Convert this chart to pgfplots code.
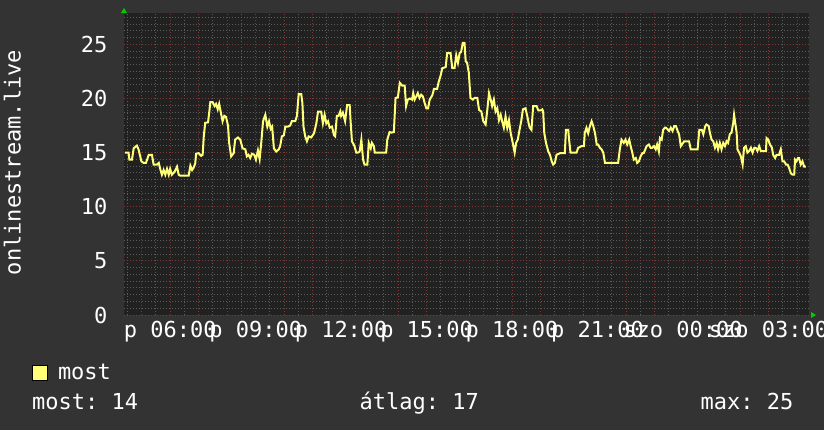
\documentclass[border=0pt]{standalone}
\usepackage{fontspec}
\setmainfont{DejaVu Sans Mono}
\usepackage{pgfplots}
\pgfplotsset{compat=1.18}
\definecolor{outerbg}{RGB}{51,51,51}
\definecolor{plotbg}{RGB}{33,33,33}
\definecolor{minorgrid}{RGB}{92,92,92}
\definecolor{majorgrid}{RGB}{125,55,55}
\definecolor{lineyellow}{RGB}{255,255,120}
\definecolor{arrowgreen}{RGB}{0,204,0}
\newcommand{\rrdfont}{\fontsize{22bp}{26bp}\selectfont}
\frenchspacing
\pgfplotstableread{
h v
4.42 15.0
4.54 15.0
4.57 14.35
4.66 14.35
4.72 15.4
4.83 15.65
4.89 15.3
4.99 14.2
5.07 14.05
5.15 14.05
5.25 14.8
5.36 14.8
5.42 13.9
5.54 13.9
5.60 14.05
5.65 13.5
5.71 12.96
5.77 13.4
5.83 12.96
5.89 13.5
5.95 12.96
6.00 13.5
6.06 12.96
6.16 13.25
6.24 13.7
6.30 12.96
6.35 12.87
6.65 12.87
6.71 13.8
6.77 13.4
6.82 13.6
6.88 14.0
6.91 14.9
7.00 14.95
7.09 14.7
7.14 14.8
7.18 16.5
7.23 17.75
7.33 17.8
7.37 18.7
7.41 19.66
7.49 19.66
7.56 19.3
7.61 19.5
7.67 19.0
7.72 19.5
7.78 18.7
7.84 17.9
7.90 18.4
7.96 18.3
8.03 17.5
8.07 15.9
8.14 14.65
8.23 14.95
8.28 16.2
8.38 16.4
8.46 16.2
8.54 15.4
8.64 15.3
8.69 14.65
8.75 14.8
8.81 14.5
8.87 14.9
8.95 14.8
9.01 14.35
9.08 15.2
9.14 14.4
9.20 16.0
9.26 17.9
9.34 18.5
9.41 17.4
9.47 17.9
9.53 17.2
9.58 17.4
9.64 15.4
9.72 15.1
9.81 15.3
9.86 15.6
9.92 16.5
9.99 16.6
10.04 17.4
10.13 17.4
10.21 17.5
10.27 17.9
10.39 17.9
10.45 18.4
10.51 20.4
10.60 20.4
10.64 19.6
10.68 17.4
10.74 16.5
10.80 16.05
10.86 16.5
10.95 16.4
11.05 16.8
11.13 17.7
11.19 18.8
11.30 18.8
11.36 17.7
11.42 18.5
11.48 17.7
11.54 17.9
11.60 17.3
11.68 17.4
11.75 16.6
11.79 16.5
11.85 18.4
11.91 18.4
11.97 18.8
12.00 18.4
12.06 18.7
12.14 17.9
12.21 19.4
12.30 19.4
12.33 18.0
12.38 16.05
12.47 15.6
12.53 15.0
12.59 15.0
12.65 15.1
12.71 16.2
12.77 14.35
12.82 13.9
12.92 13.9
12.97 15.9
13.04 15.4
13.08 15.9
13.15 15.6
13.18 15.0
13.58 15.0
13.62 16.2
13.70 16.9
13.76 16.85
13.85 16.9
13.91 20.05
13.99 20.1
14.06 21.45
14.14 21.2
14.23 21.2
14.28 19.3
14.34 19.9
14.41 20.0
14.49 19.9
14.53 20.5
14.58 19.9
14.64 20.2
14.69 20.5
14.75 20.05
14.81 20.35
14.87 20.2
14.93 19.6
14.99 19.1
15.05 19.1
15.11 19.9
15.20 20.3
15.26 20.9
15.37 20.9
15.43 21.6
15.49 22.1
15.55 22.8
15.67 22.9
15.72 24.2
15.84 24.2
15.90 22.8
15.98 22.8
16.04 24.0
16.10 23.3
16.16 24.2
16.21 24.3
16.27 25.15
16.33 25.15
16.37 23.45
16.42 23.3
16.48 22.4
16.54 20.05
16.62 19.9
16.68 20.05
16.78 20.05
16.84 18.95
16.92 18.8
16.99 17.9
17.07 17.6
17.13 18.95
17.19 20.5
17.25 19.9
17.30 19.3
17.36 19.9
17.42 18.8
17.48 19.1
17.54 18.0
17.60 18.5
17.65 17.9
17.71 17.3
17.77 18.35
17.83 17.3
17.89 18.0
17.95 16.8
18.00 16.2
18.09 15.0
18.14 15.9
18.20 16.2
18.26 17.1
18.32 17.9
18.38 19.0
18.47 19.1
18.53 18.4
18.59 17.6
18.62 17.3
18.68 17.1
18.74 19.3
18.86 19.3
18.92 18.9
19.00 18.9
19.06 19.0
19.09 18.8
19.13 16.8
19.19 15.9
19.27 15.1
19.33 14.8
19.39 14.2
19.44 13.9
19.50 14.05
19.56 14.8
19.68 14.95
19.85 14.95
19.89 17.1
19.97 17.1
20.00 16.2
20.05 15.0
20.26 15.0
20.32 15.45
20.44 15.6
20.52 15.6
20.55 16.8
20.61 17.3
20.67 16.8
20.73 17.45
20.79 17.9
20.85 17.45
20.91 16.8
20.97 15.75
21.02 15.75
21.08 15.45
21.14 15.3
21.20 15.0
21.26 14.05
21.72 14.05
21.78 15.3
21.84 16.2
21.92 15.9
21.98 16.2
22.04 15.75
22.11 16.2
22.16 15.6
22.21 15.1
22.27 14.35
22.34 14.5
22.39 14.05
22.45 14.2
22.51 14.65
22.57 14.95
22.62 14.95
22.72 15.6
22.80 15.75
22.86 15.45
22.92 15.45
22.98 15.6
23.04 15.3
23.09 15.75
23.15 15.1
23.19 16.35
23.25 16.2
23.30 17.1
23.36 17.3
23.40 17.3
23.51 17.0
23.57 17.3
23.63 17.0
23.69 17.45
23.75 17.45
23.81 17.0
23.86 16.7
23.92 15.6
24.04 16.05
24.10 16.05
24.21 16.05
24.27 15.3
24.51 15.3
24.57 17.1
24.66 17.1
24.71 16.7
24.78 17.45
24.82 17.6
24.90 17.45
24.94 16.85
25.00 16.2
25.06 16.05
25.12 15.45
25.18 15.9
25.23 15.3
25.29 15.9
25.35 15.3
25.41 15.9
25.47 15.6
25.53 16.05
25.58 15.9
25.64 16.7
25.70 16.85
25.76 17.75
25.79 18.5
25.83 17.75
25.88 16.85
25.91 15.3
25.97 15.0
26.03 14.65
26.09 13.9
26.14 15.45
26.20 15.6
26.26 15.0
26.32 15.15
26.38 15.45
26.44 15.0
26.50 15.45
26.55 15.45
26.61 15.15
26.67 15.6
26.73 15.15
26.91 15.15
26.93 16.35
26.99 16.2
27.05 15.75
27.12 15.45
27.16 14.8
27.23 14.5
27.28 14.8
27.37 14.8
27.43 15.3
27.49 14.2
27.55 14.2
27.61 13.9
27.67 13.9
27.72 13.6
27.78 13.1
27.84 12.96
27.90 12.96
27.93 14.35
27.98 14.2
28.03 14.5
28.07 14.5
28.13 13.9
28.19 14.2
28.25 13.7
28.31 13.7
}\most
\begin{document}
\begin{tikzpicture}[x=1bp, y=1bp, font=\rrdfont]
\fill[outerbg] (-124,-115) rectangle (700,315);
\path[use as bounding box] (-124,-115) rectangle (700,315);
\begin{axis}[
  at={(0,0)}, anchor=south west,
  scale only axis, width=685bp, height=302bp,
  xmin=4.38, xmax=28.42, ymin=0, ymax=27.9,
  axis background/.style={fill=plotbg},
  axis line style={draw=none},
  xtick={5,...,28},
  xticklabels={,p 06:00,,,p 09:00,,,p 12:00,,,p 15:00,,,p 18:00,,,p 21:00,,,szo 00:00,,,szo 03:00,},
  minor xtick={4.5,5.5,...,27.5},
  ytick={0,5,...,25},
  minor ytick={0.625,1.25,...,27.5},
  grid=both,
  major grid style={draw=majorgrid, line width=1bp, dash pattern=on 1bp off 2bp},
  minor grid style={draw=minorgrid, line width=1bp, dash pattern=on 1bp off 2bp},
  major tick length=0pt, minor tick length=0pt,
  /pgf/number format/assume math mode=true,
  every tick label/.append style={font=\rrdfont, text=white},
  xticklabel style={anchor=base, inner sep=0pt, yshift=-22.5bp},
  yticklabel style={anchor=east, inner sep=0pt, xshift=-16.5bp},
  ylabel={onlinestream.live},
  every axis y label/.style={at={(axis description cs:-0.163,0.505)}, rotate=90, anchor=center, font=\rrdfont, text=white, inner sep=0pt},
  legend style={at={(axis description cs:-0.1343,-0.2185)}, anchor=south west, draw=none, fill=none, inner sep=0pt, font=\rrdfont, text=white, column sep=10bp, nodes={inner sep=0pt}},
  legend image code/.code={\filldraw[fill=lineyellow, draw=black, line width=0.8bp] (0bp,-8bp) rectangle (15bp,7bp);},
]
\addplot[lineyellow, line width=2bp] table[x=h, y=v] {\most};
\addlegendentry{most}
\end{axis}
\fill[arrowgreen] (-3,302) -- (3,302) -- (0,307) -- cycle;
\fill[arrowgreen] (687,-3) -- (687,3) -- (692,0) -- cycle;
\node[anchor=base west, inner sep=0pt, text=white] at (-92,-94) {most: 14};
\node[anchor=base west, inner sep=0pt, text=white] at (235.5,-94) {átlag: 17};
\node[anchor=base west, inner sep=0pt, text=white] at (576.5,-94) {max: 25};
\end{tikzpicture}
\end{document}
